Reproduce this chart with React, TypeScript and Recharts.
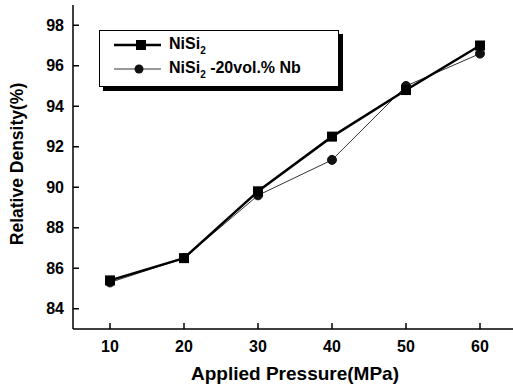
import React from "react";
import {
  LineChart,
  Line,
  XAxis,
  YAxis,
  Legend,
} from "recharts";

const pressures = [10, 20, 30, 40, 50, 60];
const nisi2 = [85.4, 86.5, 89.8, 92.5, 94.8, 97.0];
const nisi2Nb = [85.3, 86.5, 89.6, 91.35, 95.0, 96.6];
const xTicks = [10, 20, 30, 40, 50, 60];
const yTicks = [84, 86, 88, 90, 92, 94, 96, 98];

const data = pressures.map((p, i) => ({
  p,
  nisi2: nisi2[i],
  nb: nisi2Nb[i],
}));

const FONT = "'Liberation Sans', Arial, sans-serif";
const tickStyle = { fontSize: 16, fontWeight: 700, fill: "#000", fontFamily: FONT };

function SquareDot(props: any) {
  const { cx, cy } = props;
  if (cx == null || cy == null) return null;
  return <rect x={cx - 5} y={cy - 5} width={10} height={10} fill="#000" />;
}

function LegendBox() {
  const row = { display: "flex", alignItems: "center", height: 24 };
  const text = {
    fontFamily: FONT,
    fontWeight: 700,
    fontSize: 16,
    color: "#000",
    marginLeft: 8,
    whiteSpace: "nowrap" as const,
  };
  const sub = { fontSize: 10, verticalAlign: -5 };
  return (
    <div
      style={{
        border: "1.5px solid #000",
        boxShadow: "4px 4px 0 #000",
        background: "#fff",
        width: 224,
        height: 53,
        boxSizing: "content-box",
        padding: "2px 0 0 14px",
      }}
    >
      <div style={row}>
        <svg width={47} height={12}>
          <line x1={0} y1={6} x2={47} y2={6} stroke="#000" strokeWidth={2.5} />
          <rect x={22} y={1} width={10} height={10} fill="#000" />
        </svg>
        <span style={text}>
          NiSi<span style={sub}>2</span>
        </span>
      </div>
      <div style={row}>
        <svg width={47} height={12}>
          <line x1={0} y1={6} x2={47} y2={6} stroke="#333" strokeWidth={1} />
          <circle cx={25} cy={6} r={4.5} fill="#111" />
        </svg>
        <span style={text}>
          NiSi<span style={sub}>2</span> -20vol.% Nb
        </span>
      </div>
    </div>
  );
}

export default function App() {
  return (
    <div
      style={{
        position: "absolute",
        left: 0,
        top: 0,
        width: 513,
        height: 386,
        overflow: "hidden",
        background: "#fff",
      }}
    >
      <LineChart
        width={520}
        height={386}
        data={data}
        margin={{ top: 5, right: 3, bottom: 0, left: 0 }}
      >
        <XAxis
          dataKey="p"
          type="number"
          domain={[5, 65]}
          ticks={xTicks}
          allowDataOverflow
          height={57}
          tickSize={-6}
          tickMargin={18}
          tick={tickStyle}
          stroke="#000"
          strokeWidth={1.5}
          label={{
            value: "Applied Pressure(MPa)",
            position: "insideBottom",
            offset: 6,
            style: { fontSize: 19, fontWeight: 700, fill: "#000", fontFamily: FONT },
          }}
        />
        <XAxis
          xAxisId="top"
          dataKey="p"
          type="number"
          domain={[5, 65]}
          orientation="top"
          height={0}
          tick={false}
          tickLine={false}
          stroke="#000"
          strokeWidth={1.5}
        />
        <YAxis
          type="number"
          domain={[83, 99]}
          ticks={yTicks}
          allowDataOverflow
          width={73}
          tickSize={-6}
          tickMargin={15}
          tick={tickStyle}
          stroke="#000"
          strokeWidth={1.5}
          label={{
            content: () => (
              <text
                x={17}
                y={164}
                transform="rotate(-90 17 164)"
                textAnchor="middle"
                dominantBaseline="central"
                style={{ fontSize: 17.5, fontWeight: 700, fill: "#000", fontFamily: FONT }}
              >
                Relative Density(%)
              </text>
            ),
          }}
        />
        <Legend
          layout="vertical"
          align="center"
          verticalAlign="middle"
          content={() => <LegendBox />}
          wrapperStyle={{ left: 99, top: 30, width: "auto", height: "auto" }}
        />
        <Line
          dataKey="nb"
          stroke="#333"
          strokeWidth={1}
          dot={{ r: 4.5, fill: "#111", stroke: "#111", strokeWidth: 1 }}
          activeDot={false}
          isAnimationActive={false}
        />
        <Line
          dataKey="nisi2"
          stroke="#000"
          strokeWidth={2.5}
          dot={<SquareDot />}
          activeDot={false}
          isAnimationActive={false}
        />
      </LineChart>
    </div>
  );
}
